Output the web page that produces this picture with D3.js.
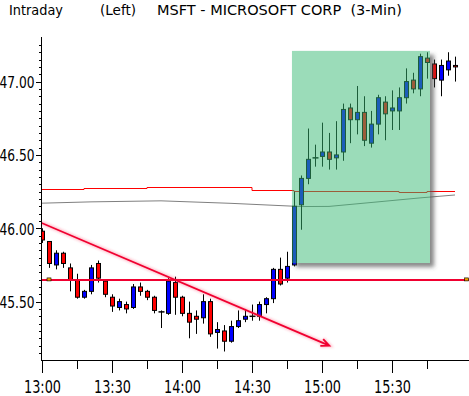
<!DOCTYPE html>
<html>
<head>
<meta charset="utf-8">
<script src="https://cdn.jsdelivr.net/npm/d3@7"></script>
<style>
body { margin: 0; background: #fff; }
svg { display: block; }
text { font-family: "Liberation Sans Narrow", "DejaVu Sans Condensed", sans-serif; fill: #000; }
</style>
</head>
<body>
<svg id="chart" width="469" height="396"></svg>
<script>

// 3-min bars, MSFT intraday
var times = [
    "13:00","13:03","13:06","13:09","13:12","13:15","13:18","13:21","13:24","13:27",
    "13:30","13:33","13:36","13:39","13:42","13:45","13:48","13:51","13:54","13:57",
    "14:00","14:03","14:06","14:09","14:12","14:15","14:18","14:21","14:24","14:27",
    "14:30","14:33","14:36","14:39","14:42","14:45","14:48","14:51","14:54","14:57",
    "15:00","15:03","15:06","15:09","15:12","15:15","15:18","15:21","15:24","15:27",
    "15:30","15:33","15:36","15:39","15:42","15:45","15:48","15:51","15:54","15:57"];

var opens = [
    45.98,45.91,45.75,45.83,45.73,45.65,45.53,45.57,45.76,45.64,
    45.53,45.46,45.48,45.46,45.60,45.57,45.53,45.43,45.42,45.63,
    45.53,45.42,45.40,45.39,45.50,45.29,45.30,45.23,45.33,45.38,
    45.40,45.40,45.48,45.52,45.72,45.66,45.75,46.16,46.34,46.48,
    46.49,46.52,46.48,46.52,46.82,46.74,46.79,46.58,46.71,46.86,
    46.80,46.80,46.89,47.01,46.95,47.16,47.12,47.01,47.08,47.11];
var highs = [
    46.00,45.91,45.85,45.84,45.76,45.69,45.58,45.75,45.78,45.65,
    45.55,45.52,45.50,45.62,45.63,45.58,45.54,45.44,45.66,45.67,
    45.54,45.50,45.44,45.55,45.52,45.36,45.34,45.37,45.44,45.45,
    45.48,45.50,45.53,45.73,45.80,45.84,46.25,46.36,46.68,46.57,
    46.72,46.65,46.73,46.85,46.85,46.97,46.90,46.80,46.91,46.90,
    46.94,46.96,47.09,47.06,47.19,47.20,47.15,47.15,47.20,47.17];
var lows = [
    45.90,45.73,45.72,45.73,45.57,45.52,45.52,45.55,45.63,45.53,
    45.43,45.44,45.42,45.45,45.54,45.51,45.42,45.32,45.41,45.41,
    45.40,45.25,45.28,45.35,45.26,45.18,45.16,45.22,45.32,45.36,
    45.37,45.37,45.42,45.49,45.61,45.63,45.74,45.99,46.30,46.42,
    46.42,46.40,46.40,46.46,46.58,46.64,46.56,46.55,46.64,46.60,
    46.67,46.67,46.85,46.92,46.90,47.02,46.96,46.90,47.04,47.00];
var closes = [
    45.92,45.76,45.83,45.76,45.65,45.53,45.57,45.73,45.66,45.55,
    45.47,45.50,45.45,45.60,45.57,45.53,45.44,45.43,45.64,45.53,
    45.42,45.36,45.38,45.50,45.28,45.31,45.23,45.33,45.37,45.40,
    45.40,45.48,45.52,45.72,45.62,45.74,46.15,46.34,46.47,46.48,
    46.52,46.47,46.50,46.81,46.74,46.79,46.60,46.71,46.89,46.78,
    46.82,46.89,47.00,46.95,47.17,47.13,47.02,47.11,47.14,47.10];

// moving average lines (vertices)
var redMaTimes  = ["13:00","13:18","13:45","14:30","14:48","15:33","15:45","15:57"];
var redMaValues = [46.266,46.273,46.280,46.262,46.255,46.246,46.255,46.255];
var grayMaTimes  = ["13:00","13:21","13:51","14:21","14:51","15:03","15:24","15:42","15:57"];
var grayMaValues = [46.171,46.180,46.187,46.170,46.148,46.149,46.180,46.207,46.227];

// drawn objects
var supportLevel = 45.648;
var trendTimes  = ["12:59:34","15:03:08"];
var trendValues = [46.038,45.200];
var zoneTimes  = ["14:47:08","15:46:17"];
var zoneValues = [45.763,47.209];

var xMajorTicks = ["13:00","13:30","14:00","14:30","15:00","15:30"];
var xMinorTicks = ["13:15","13:45","14:15","14:45","15:15","15:45"];
var yMajorTicks = [45.50,46.00,46.50,47.00];
var yMinorTicks = [45.15,45.20,45.25,45.30,45.35,45.40,45.45,45.55,45.60,45.65,45.70,45.75,45.80,45.85,45.90,45.95,
                   46.05,46.10,46.15,46.20,46.25,46.30,46.35,46.40,46.45,46.55,46.60,46.65,46.70,46.75,46.80,46.85,
                   46.90,46.95,47.05,47.10,47.15,47.20,47.25];

var parseT = function(s) { return s.length > 5 ? d3.timeParse("%H:%M:%S")(s) : d3.timeParse("%H:%M")(s); };

var svg = d3.select("#chart");
var plotLeft = 41, plotRight = 469, plotTop = 37, plotBottom = 360;

var x = d3.scaleTime()
    .domain([parseT("12:59:34"), parseT("16:03")])
    .range([plotLeft, plotRight]);
var y = d3.scaleLinear()
    .domain([45.10, 47.28])
    .range([360.3, 40.5]);

var defs = svg.append("defs");
defs.append("clipPath").attr("id", "plotclip")
    .append("rect").attr("x", plotLeft + 1).attr("y", plotTop).attr("width", plotRight - plotLeft).attr("height", plotBottom - plotTop);
defs.append("filter").attr("id", "blur").attr("x", "-20%").attr("y", "-20%").attr("width", "140%").attr("height", "140%")
    .append("feGaussianBlur").attr("stdDeviation", 2.2);
var glow = defs.append("filter").attr("id", "glow").attr("x", "-10%").attr("y", "-50%").attr("width", "120%").attr("height", "200%");
glow.append("feGaussianBlur").attr("stdDeviation", 1);

var zx0 = x(parseT(zoneTimes[0])), zx1 = x(parseT(zoneTimes[1]));
var zy0 = y(zoneValues[1]), zy1 = y(zoneValues[0]);
var mask = defs.append("mask").attr("id", "shadowMask");
mask.append("rect").attr("x", 0).attr("y", 0).attr("width", 469).attr("height", 396).attr("fill", "white");
mask.append("rect").attr("x", zx0).attr("y", zy0).attr("width", zx1 - zx0).attr("height", zy1 - zy0).attr("fill", "black");

// title
var title = svg.append("g").style("font-size", "14px");
title.append("text").attr("x", 9).attr("y", 15).attr("textLength", 54).attr("lengthAdjust", "spacingAndGlyphs").text("Intraday");
title.append("text").attr("x", 100).attr("y", 15).attr("textLength", 36).attr("lengthAdjust", "spacingAndGlyphs").text("(Left)");
title.append("text").attr("x", 157).attr("y", 15).attr("textLength", 245).attr("lengthAdjust", "spacingAndGlyphs")
    .attr("xml:space", "preserve").text("MSFT - MICROSOFT CORP  (3-Min)");

// axes
svg.append("g").attr("transform", "translate(" + (plotLeft + 0.5) + ",0)")
    .call(d3.axisLeft(y).tickValues(yMinorTicks).tickSize(3).tickFormat(""));
var yMajor = svg.append("g").attr("transform", "translate(" + (plotLeft + 0.5) + ",0)")
    .call(d3.axisLeft(y).tickValues(yMajorTicks).tickSize(6).tickPadding(1).tickFormat(d3.format(".2f")));
yMajor.selectAll("text")
    .style("font-size", "16px")
    .attr("dy", "0.36em")
    .attr("textLength", 35).attr("lengthAdjust", "spacingAndGlyphs");

svg.append("g").attr("transform", "translate(0," + (plotBottom + 0.5) + ")")
    .call(d3.axisBottom(x).tickValues(xMinorTicks.map(parseT)).tickSize(8).tickFormat(""));
var xMajor = svg.append("g").attr("transform", "translate(0," + (plotBottom + 0.5) + ")")
    .call(d3.axisBottom(x).tickValues(xMajorTicks.map(parseT)).tickSize(12).tickPadding(8).tickFormat(d3.timeFormat("%H:%M")));
xMajor.selectAll("text")
    .style("font-size", "18px")
    .attr("textLength", 37).attr("lengthAdjust", "spacingAndGlyphs");

svg.selectAll(".domain").remove();
svg.selectAll(".tick line").attr("stroke", "#000").attr("shape-rendering", "crispEdges");
svg.append("line").attr("x1", plotLeft + 0.5).attr("x2", plotLeft + 0.5).attr("y1", plotTop).attr("y2", plotBottom + 1)
    .attr("stroke", "#000").attr("shape-rendering", "crispEdges");
svg.append("line").attr("x1", plotLeft).attr("x2", plotRight).attr("y1", plotBottom + 0.5).attr("y2", plotBottom + 0.5)
    .attr("stroke", "#000").attr("shape-rendering", "crispEdges");

var plot = svg.append("g").attr("clip-path", "url(#plotclip)");

// moving averages
plot.append("path")
    .datum(redMaTimes.map(function(t, i) { return [parseT(t), redMaValues[i]]; }))
    .attr("fill", "none").attr("stroke", "#f00").attr("stroke-width", 1)
    .attr("d", d3.line().curve(d3.curveStepAfter).x(function(d) { return x(d[0]); }).y(function(d) { return Math.round(y(d[1])) + 0.5; }));
plot.append("path")
    .datum(grayMaTimes.map(function(t, i) { return [parseT(t), grayMaValues[i]]; }))
    .attr("fill", "none").attr("stroke", "#808080").attr("stroke-width", 1)
    .attr("d", d3.line().x(function(d) { return x(d[0]); }).y(function(d) { return y(d[1]); }));

// candles
var bars = times.map(function(t, i) {
    return { t: parseT(t), o: opens[i], h: highs[i], l: lows[i], c: closes[i] };
});
var cx = function(d) { return Math.round(x(d.t)) + 0.5; };

var candle = plot.selectAll("g.candle")
    .data(bars)
    .enter().append("g")
    .attr("class", "candle");
candle.append("line")
    .attr("x1", cx).attr("x2", cx)
    .attr("y1", function(d) { return y(d.h); })
    .attr("y2", function(d) { return y(d.l); })
    .attr("stroke", "#000");
candle.filter(function(d) { return d.o !== d.c; })
    .append("rect")
    .attr("x", function(d) { return cx(d) - 2; })
    .attr("width", 4)
    .attr("y", function(d) { return y(Math.max(d.o, d.c)); })
    .attr("height", function(d) { return Math.max(1, Math.abs(y(d.o) - y(d.c))); })
    .attr("fill", function(d) { return d.c > d.o ? "#0000ff" : "#ff0000"; })
    .attr("stroke", "#000");
candle.filter(function(d) { return d.o === d.c; })
    .append("line")
    .attr("x1", function(d) { return cx(d) - 3; })
    .attr("x2", function(d) { return cx(d) + 3; })
    .attr("y1", function(d) { return y(d.o); })
    .attr("y2", function(d) { return y(d.o); })
    .attr("stroke", "#000").attr("stroke-width", 1.5);

// support line
var sy = y(supportLevel);
plot.append("line").attr("x1", plotLeft).attr("x2", plotRight).attr("y1", sy).attr("y2", sy)
    .attr("stroke", "#ff4060").attr("stroke-opacity", 0.4).attr("stroke-width", 5).attr("filter", "url(#glow)");
plot.append("line").attr("x1", plotLeft).attr("x2", plotRight).attr("y1", sy).attr("y2", sy)
    .attr("stroke", "#f00030").attr("stroke-width", 2);
var anchors = [parseT("13:03"), parseT("16:02")];
plot.selectAll("rect.anchor").data(anchors).enter().append("rect")
    .attr("class", "anchor")
    .attr("x", function(d) { return x(d) - 2; }).attr("y", sy - 2).attr("width", 4).attr("height", 3)
    .attr("fill", "#f0a000").attr("stroke", "#000").attr("stroke-width", 0.6);

// trend line with arrow
var tx0 = x(parseT(trendTimes[0])), ty0 = y(trendValues[0]);
var tx1 = x(parseT(trendTimes[1])), ty1 = y(trendValues[1]);
var ang = Math.atan2(ty1 - ty0, tx1 - tx0);
var headLen = 9, spread = 0.42;
var arrowPath = "M" + tx0 + "," + ty0 + "L" + tx1 + "," + ty1 +
    "M" + (tx1 - headLen * Math.cos(ang - spread)) + "," + (ty1 - headLen * Math.sin(ang - spread)) +
    "L" + tx1 + "," + ty1 +
    "L" + (tx1 - headLen * Math.cos(ang + spread)) + "," + (ty1 - headLen * Math.sin(ang + spread));
plot.append("path").attr("d", arrowPath).attr("fill", "none")
    .attr("stroke", "#ff4060").attr("stroke-opacity", 0.3).attr("stroke-width", 4).attr("filter", "url(#glow)");
plot.append("path").attr("d", arrowPath).attr("fill", "none")
    .attr("stroke", "#f00030").attr("stroke-width", 1.8);

// highlighted zone with shadow
svg.append("rect")
    .attr("x", zx0 + 4).attr("y", zy0 + 4).attr("width", zx1 - zx0).attr("height", zy1 - zy0)
    .attr("fill", "#555").attr("fill-opacity", 0.7)
    .attr("filter", "url(#blur)").attr("mask", "url(#shadowMask)");
svg.append("rect")
    .attr("x", zx0).attr("y", zy0).attr("width", zx1 - zx0).attr("height", zy1 - zy0)
    .attr("fill", "rgb(55,185,115)").attr("fill-opacity", 0.5);

</script>
</body>
</html>
